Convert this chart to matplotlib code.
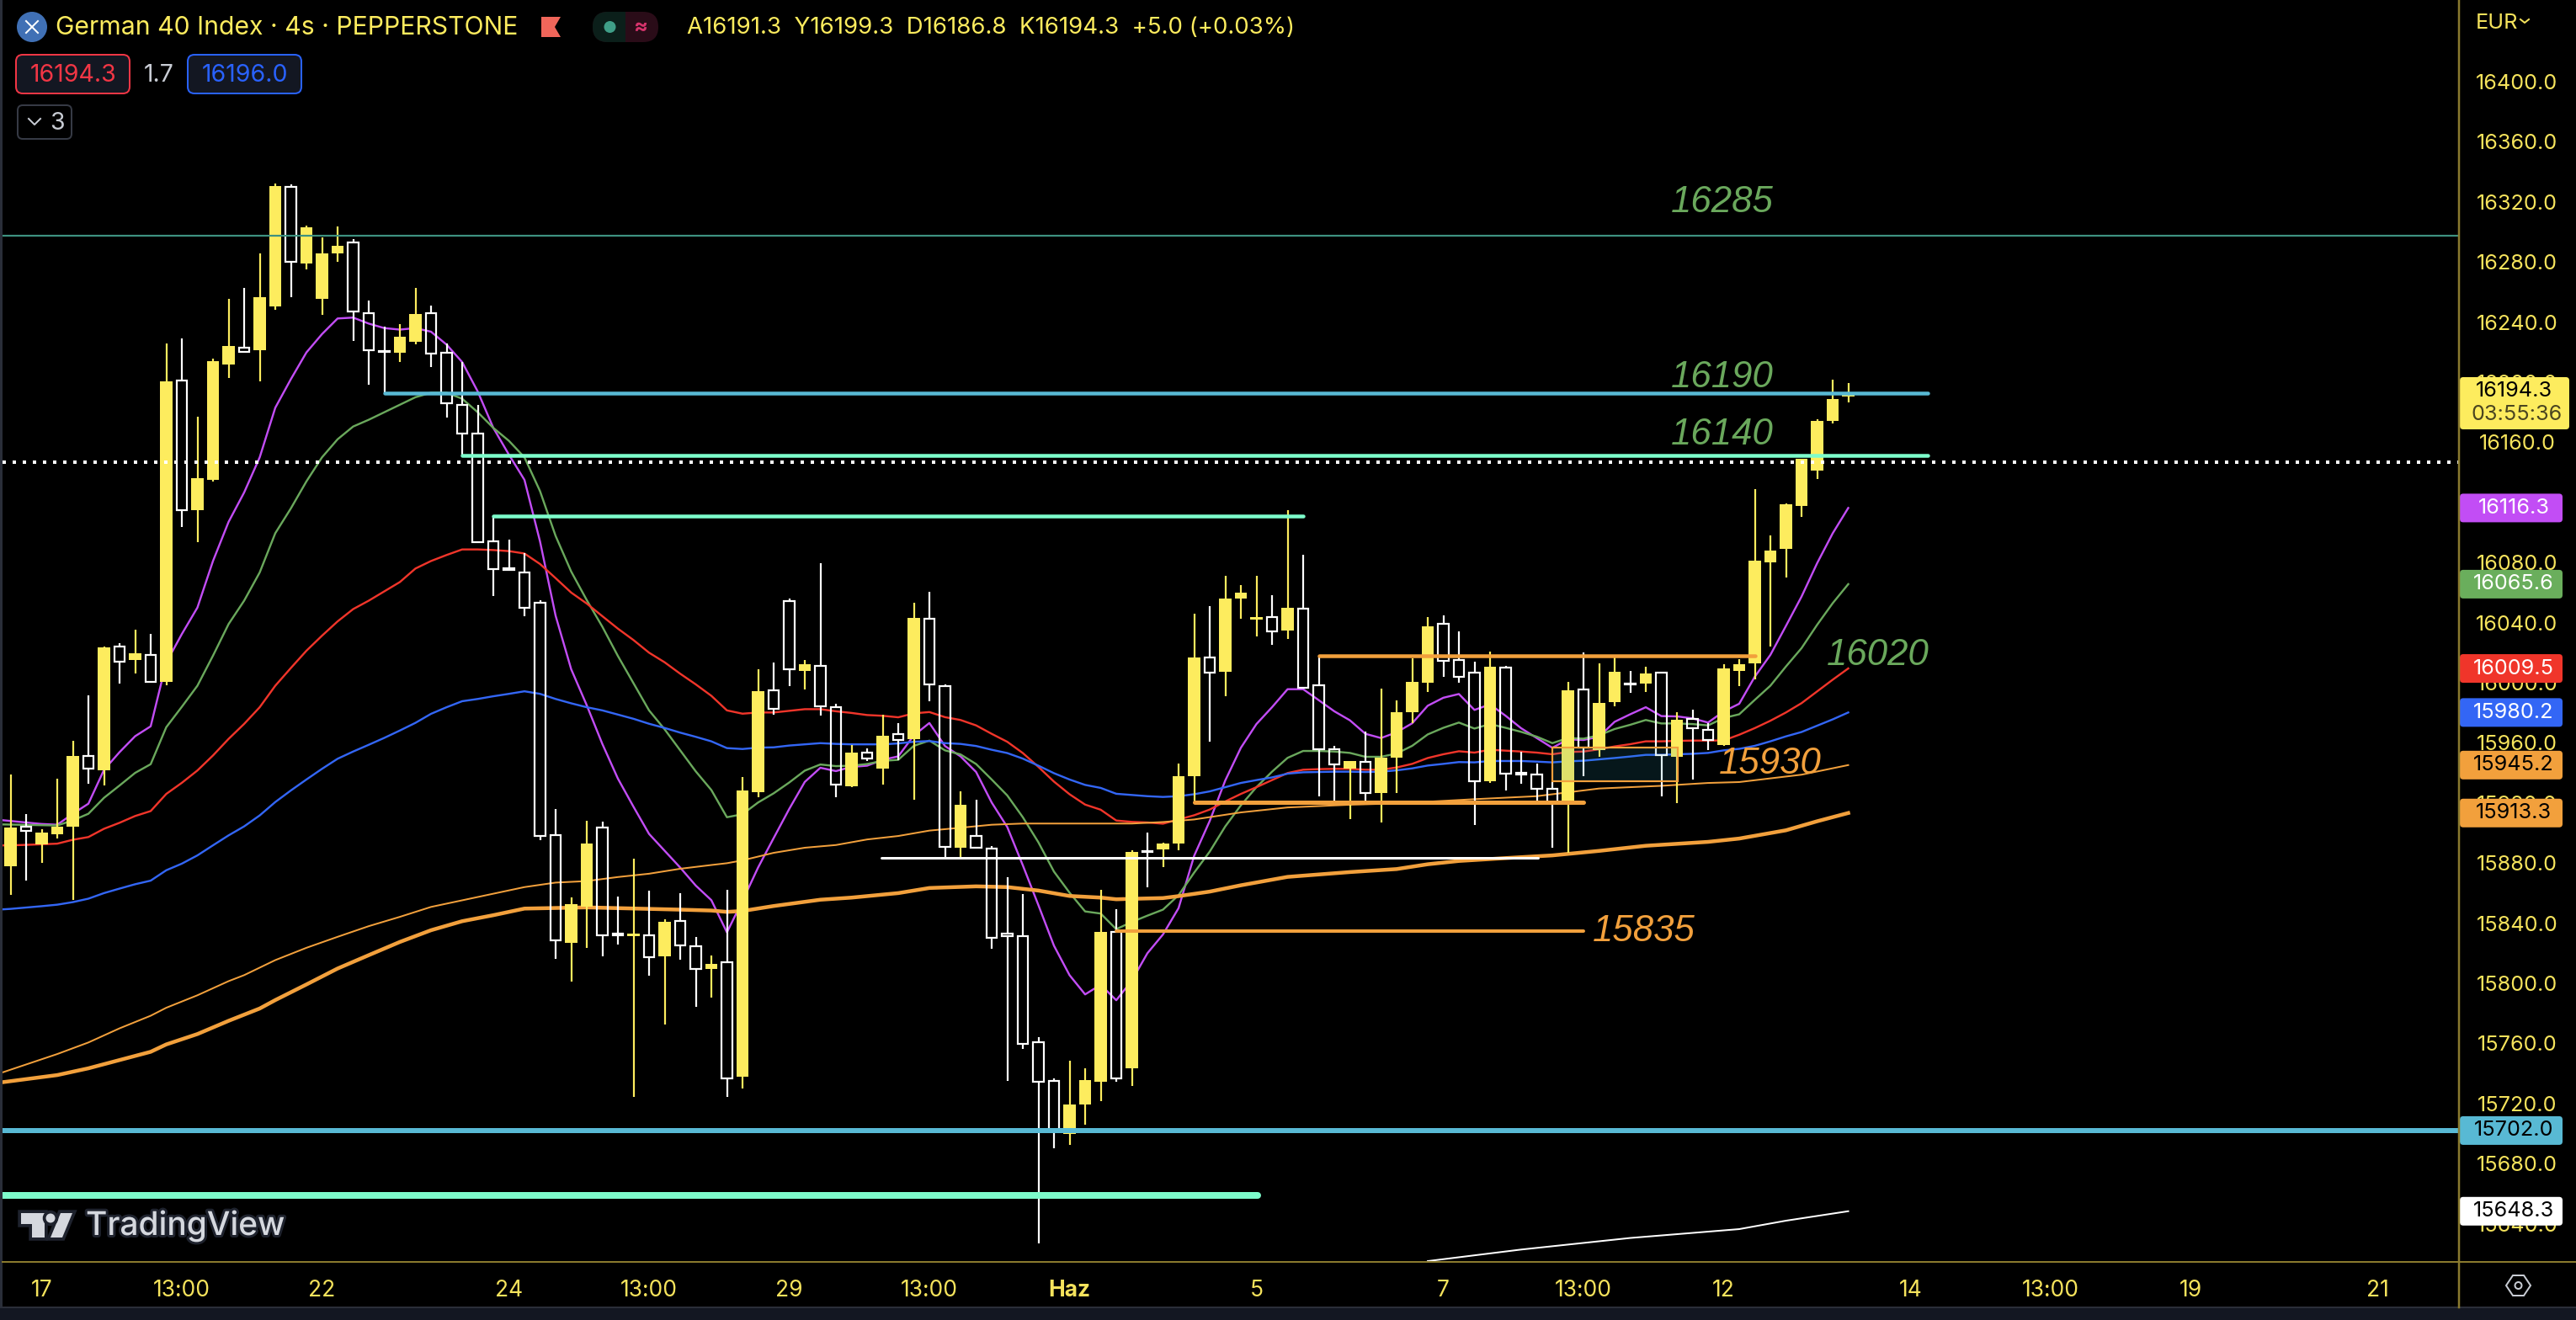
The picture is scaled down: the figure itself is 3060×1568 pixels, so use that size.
import matplotlib as mpl
mpl.use('Agg')
import matplotlib.pyplot as plt
from matplotlib.patches import Circle, FancyBboxPatch, Polygon, Rectangle
import matplotlib.patheffects as pe

plt.rcParams['font.family'] = ['Inter', 'DejaVu Sans']

# candles
opens = [15877.6, 15904, 15892.2, 15899, 15904.2, 15951.4, 15942, 16024.2, 16015, 16018.7,
         16000.5, 16201.3, 16115, 16135, 16211.8, 16223.2, 16221.3, 16250.6, 16329.8, 16279.2,
         16255.5, 16285.9, 16292.8, 16245.8, 16221, 16219.8, 16226.9, 16245.8, 16219.8, 16185.1,
         16166, 16094.3, 16076, 16073.6, 16053.5, 15898.4, 15827.1, 15850.8, 15903.8, 15833,
         15831.5, 15832.2, 15817.7, 15841.4, 15824.4, 15809.4, 15813.8, 15737.7, 15927.2, 15995.2,
         16054.6, 16007.8, 16011.4, 15983.5, 15931.1, 15953.7, 15943.1, 15966, 15962.4, 16042.3,
         15997.5, 15890.2, 15898.3, 15889.9, 15833, 15831.6, 15760.6, 15735.2, 15699.5, 15719.1,
         15734.7, 15834.4, 15743.6, 15888, 15889.3, 15893.2, 15938, 16017, 16007.3, 16056.2,
         16042, 16043.9, 16034.9, 16049.5, 15998.5, 15955.9, 15943, 15947.5, 15926.8, 15950.3,
         15980.6, 16000.2, 16039.4, 16014.9, 16006.9, 15934.4, 16009.9, 15940, 15939.1, 15929.2,
         15920.6, 15995.3, 15955.4, 15987.1, 15999.7, 15999.4, 16006.5, 15950.7, 15976.1, 15968.8,
         15958.7, 16007.9, 16012.8, 16080.1, 16088.8, 16117.6, 16141, 16174.3, 16190.5]
closes = [15903.7, 15901.3, 15900.4, 15904.2, 15951.4, 15942.7, 16023.6, 16013.8, 16019.6, 16000.5,
          16200.4, 16114.7, 16135.9, 16214, 16224.1, 16220, 16256.6, 16330.5, 16279.9, 16303.1,
          16285.7, 16290.8, 16246.9, 16221.1, 16220, 16230.3, 16245.4, 16218.9, 16185.8, 16165.8,
          16093.6, 16075.5, 16075, 16049.7, 15898, 15828.4, 15852.8, 15893.1, 15832.2, 15832,
          15833.3, 15817.2, 15840.8, 15825, 15809.4, 15812.7, 15736.9, 15928.4, 15994.4, 15982.4,
          16008.9, 16012.2, 15984.4, 15932, 15953.4, 15949.5, 15964.6, 15961.8, 16043.2, 15998.6,
          15891, 15918.9, 15890.2, 15830.5, 15831.4, 15759.5, 15734.4, 15702, 15719.3, 15735.5,
          15834.2, 15736.9, 15887.4, 15887.2, 15893, 15937.8, 16016.8, 16006.9, 16056, 16059.9,
          16043.7, 16034, 16049.8, 15996.4, 15955.5, 15945.5, 15947.9, 15926.4, 15950.1, 15980.4,
          16000.5, 16037.5, 16014.4, 16003.9, 15934.4, 16010.6, 15939.3, 15939, 15929.6, 15920.3,
          15994.9, 15956.7, 15986.5, 16007.3, 15998.7, 16006.2, 15951.6, 15975.3, 15969.5, 15961.9,
          16009.5, 16012.3, 16081.2, 16087.9, 16118.7, 16149.2, 16174.3, 16188.7, 16191.3]
highs = [15938.9, 15912.6, 15902.6, 15936, 15961.3, 15991.7, 16024, 16026.4, 16035.3, 16032.4,
         16225.6, 16228.9, 16177, 16215.7, 16255.5, 16262.6, 16285.7, 16332.2, 16331.7, 16304.2,
         16296.4, 16303.6, 16295.2, 16254.3, 16236.8, 16238.7, 16262.7, 16251, 16225.6, 16213.5,
         16184.7, 16110.9, 16095, 16086, 16054.8, 15915.7, 15857.2, 15908.2, 15907.5, 15857.6,
         15883, 15861.7, 15842.8, 15859.8, 15830.8, 15818.5, 15862.3, 15937.3, 16008.9, 16013.4,
         16056.3, 16015, 16079.4, 15985.8, 15958.5, 15956.2, 15978.8, 15973.2, 16053.2, 16060.5,
         15998.9, 15927.8, 15922.2, 15891.3, 15870.4, 15859.2, 15764, 15736.5, 15748.3, 15743.3,
         15862.3, 15849.2, 15888.5, 15900.2, 15893.5, 15946.2, 16045.9, 16051, 16071.1, 16065,
         16071.1, 16058.3, 16114.8, 16085.1, 16017.9, 15958, 15947.9, 15967.3, 15996.1, 15988.2,
         16016.2, 16043.7, 16044.8, 16034.2, 16014, 16020.7, 16011.4, 15954, 15946.2, 15933.7,
         16000.5, 16020.2, 16012.9, 16018, 16007.8, 16010.6, 16006.5, 15980.4, 15982.1, 15972.9,
         16012.6, 16015.9, 16128.8, 16098.1, 16119.3, 16149.2, 16175.1, 16201.7, 16199.3]
lows = [15859, 15868.5, 15880, 15896.6, 15855.2, 15933, 15931.4, 15999.2, 16006.3, 16000.5,
        15998.5, 16103.8, 16093.7, 16134, 16203, 16220, 16200.7, 16248.4, 16256.8, 16275.3,
        16245, 16280.3, 16227.6, 16198.5, 16192.9, 16213.6, 16225.4, 16210.3, 16176.7, 16151.3,
        16093.6, 16057.5, 16075, 16044.4, 15895.5, 15816, 15801.4, 15823.8, 15817.7, 15825.5,
        15724.6, 15805.2, 15772.3, 15815.5, 15784.5, 15790.7, 15724.1, 15730.2, 15923.6, 15978.5,
        15997.5, 15995.5, 15978, 15923.6, 15930.6, 15948.1, 15932.3, 15948.7, 15922, 15987.7,
        15883.5, 15883.5, 15890.2, 15822.7, 15735.2, 15756.1, 15627, 15690.3, 15692.6, 15705.7,
        15721.8, 15734.7, 15731.9, 15863.7, 15877.3, 15888.7, 15920.3, 15961, 15991, 16042.6,
        16030.8, 16025.2, 16029.3, 15996.4, 15924.5, 15920.6, 15909.4, 15919.7, 15907.2, 15926.8,
        15973.1, 15994, 16004.1, 16000, 15905.5, 15933.3, 15928.3, 15932.8, 15918.9, 15890.4,
        15886.6, 15938, 15950.7, 15984.5, 15993.5, 15994, 15924.5, 15920.1, 15935.7, 15955.4,
        15958.1, 15997.5, 16002.4, 16024.1, 16069.9, 16110.2, 16135.7, 16172.7, 16186.8]

# moving averages, one value per candle from index -1 to 118
ma_purple = [15909, 15908, 15907, 15906, 15905.5, 15912.8, 15919.5, 15942, 15953.8, 15964.4, 15971,
             16013.4, 16032.4, 16050, 16081, 16107, 16126.6, 16150, 16183, 16202, 16219.8,
             16232, 16242.4, 16243, 16239, 16236, 16235, 16236, 16233.6, 16225, 16213.4,
             16193.8, 16169.6, 16151.8, 16135, 16094, 16044.6, 16009, 15985, 15959.3, 15936.2,
             15917.5, 15899.4, 15888.2, 15877, 15865, 15855.3, 15833.9, 15854.8, 15877, 15896.6,
             15916, 15934, 15943.4, 15941.2, 15944, 15944.8, 15948.7, 15951, 15964.9, 15973.2,
             15957.9, 15951, 15940.6, 15920.3, 15904, 15878.5, 15852, 15825, 15805.4, 15792.6,
             15799, 15788.7, 15801.8, 15820, 15832.5, 15850, 15884.8, 15908, 15935, 15956.7,
             15972.5, 15983.7, 15995.7, 15995.7, 15988.4, 15981, 15975, 15966, 15963.2, 15967,
             15973, 15984.7, 15990, 15992.5, 15981.9, 15985.6, 15978, 15969.7, 15963.2, 15956.7,
             15962.3, 15961.9, 15964.1, 15974, 15979, 15983.7, 15977.8, 15977.6, 15976.3, 15973.5,
             15980.9, 15986, 16004, 16018.5, 16037.8, 16057.3, 16079.5, 16099.4, 16116.3]
ma_green = [15905.8, 15905.6, 15905.4, 15905.2, 15905, 15908.4, 15912.8, 15923.4, 15931.6, 15940, 15945.8,
            15970.4, 15984, 15998, 16018, 16039, 16054.6, 16073.4, 16099.5, 16116, 16134,
            16150, 16162, 16170.5, 16175, 16180, 16185, 16190, 16193, 16193, 16189,
            16180, 16169.6, 16161, 16150, 16127.5, 16097.7, 16074, 16055, 16037.3, 16017.8,
            15999.7, 15981.6, 15969, 15955, 15941, 15928.6, 15910.5, 15912.5, 15920.3, 15926.4,
            15933.6, 15941.5, 15945.6, 15944.5, 15944.8, 15945.9, 15948, 15948.7, 15958, 15961.5,
            15955, 15952.3, 15945.9, 15935.6, 15925, 15910.5, 15893.8, 15874.3, 15860.3, 15847.8,
            15846.4, 15836, 15840.8, 15845, 15849, 15858.6, 15873.6, 15887.6, 15904.4, 15918.4,
            15930.5, 15940.8, 15950, 15954.6, 15954.6, 15954.2, 15953.3, 15950.7, 15950.7, 15952.9,
            15958, 15965.6, 15970, 15973.5, 15969.5, 15972.5, 15970, 15967.3, 15964.1, 15959.8,
            15963.2, 15962.8, 15965, 15969.2, 15972, 15975.2, 15972.9, 15972.9, 15972.5, 15971.6,
            15976.5, 15979, 15988.6, 15998, 16010.8, 16023, 16038.5, 16052.9, 16065.6]
ma_red = [15891.7, 15891.8, 15892.1, 15892.5, 15892.9, 15895.5, 15897.3, 15902.8, 15906.8, 15911.3, 15914.6,
          15926, 15933.4, 15941.6, 15951.6, 15962.6, 15972.6, 15983.7, 15998, 16009.8, 16021.3,
          16031.3, 16040.8, 16049, 16054.6, 16060.8, 16067, 16076, 16081, 16085, 16088.7,
          16088.7, 16088.3, 16087.6, 16086, 16079, 16069.6, 16060, 16052.7, 16044.3, 16036,
          16028.4, 16020, 16013.6, 16006, 15998.9, 15991.3, 15981.6, 15979.4, 15980.2, 15980.2,
          15981.3, 15982.4, 15982.4, 15981, 15979.9, 15978.5, 15978, 15977, 15979.6, 15980.5,
          15977.1, 15975.2, 15971.6, 15966, 15960.7, 15953.2, 15944, 15934.2, 15925.8, 15918.9,
          15915.5, 15908.3, 15907.4, 15907, 15906.2, 15909, 15911.8, 15915.6, 15921, 15926,
          15930.5, 15935.2, 15939.9, 15942.1, 15942.5, 15942.7, 15942.7, 15942.1, 15942.1, 15943.6,
          15946, 15949.9, 15952.4, 15954.4, 15953.5, 15955.4, 15954.8, 15954.2, 15953.5, 15952.4,
          15953.9, 15954.2, 15955.7, 15957.6, 15959.1, 15961, 15961, 15961.3, 15961.5, 15961.5,
          15961.6, 15965.4, 15969.8, 15974.7, 15980.2, 15986.4, 15994.2, 16002, 16009.5]
ma_blue = [15848.9, 15849.5, 15850.4, 15851.3, 15852.3, 15854, 15856.3, 15860, 15863, 15865.9, 15868.3,
           15875.2, 15879.6, 15885.1, 15891.8, 15898.4, 15904.4, 15911.7, 15920.6, 15928.3, 15935.6,
           15942.7, 15949.4, 15954.2, 15958.7, 15963.3, 15968.2, 15973.3, 15979.3, 15983.7, 15987.7,
           15989.2, 15991, 15992.6, 15994.3, 15992.6, 15989.2, 15986.3, 15983.7, 15981.6, 15978.8,
           15976, 15972.7, 15969.9, 15966.8, 15964, 15961, 15956.5, 15955.9, 15956.8, 15957,
           15958.2, 15959, 15959.8, 15959.3, 15959, 15959, 15959, 15959.6, 15960.7, 15961.2,
           15959.8, 15959.3, 15957.9, 15955.4, 15953.2, 15949.5, 15944.8, 15939.8, 15935.6, 15932,
           15930, 15926.1, 15925.3, 15924.5, 15924, 15924.5, 15925.8, 15927.7, 15930.5, 15933.3,
           15935.2, 15937, 15939.5, 15940.4, 15940.6, 15940.8, 15940.8, 15940.6, 15940.8, 15941.7,
           15943, 15944.9, 15946, 15947.2, 15947, 15947.9, 15947.9, 15947.9, 15947.5, 15947,
           15947.7, 15948.1, 15949, 15949.9, 15950.9, 15952, 15952, 15952.4, 15952.7, 15953.3,
           15955, 15956, 15958, 15961, 15964.3, 15967.2, 15971.4, 15975.6, 15980.2]

# the slow averages and the white one were only read at these candles
thin_orange_at = [-1, 3, 5, 7, 9, 10, 12, 14, 15, 17, 19, 21, 23, 25, 27, 29, 30, 33, 35, 37, 39, 41, 43, 45,
                  46, 47, 49, 51, 53, 55, 57, 59, 61, 63, 65, 67, 70, 72, 74, 76, 79, 82, 86, 89, 94, 98,
                  102, 106, 109, 111, 115, 118]
thin_orange = [15739, 15752.9, 15760.6, 15770, 15778.4, 15783.7, 15792, 15801.4, 15805.4, 15815.4, 15823.6,
               15830.9, 15838, 15844.2, 15850.8, 15855.2, 15857.4, 15864, 15867, 15868, 15870.7, 15872.9,
               15876.2, 15878.7, 15879.9, 15881.8, 15886.8, 15890.2, 15892, 15895.7, 15898, 15901.6,
               15903.5, 15905.5, 15906.3, 15906.3, 15906.3, 15906.3, 15907.3, 15909, 15913.7, 15917,
               15918.8, 15919.7, 15922.5, 15924.5, 15929.6, 15931.4, 15933.3, 15933.9, 15938.8, 15945.2]
thick_orange_at = [-1, 3, 5, 7, 9, 10, 12, 14, 16, 17, 19, 21, 23, 25, 27, 29, 31, 33, 35, 37, 39, 41, 43, 45,
                   46, 47, 49, 51, 52, 54, 57, 59, 62, 64, 66, 68, 70, 71, 72, 74, 75, 77, 79, 82, 86, 89,
                   91, 93, 96, 99, 102, 105, 109, 111, 114, 116, 118]
thick_orange = [15733.5, 15738.9, 15743.4, 15748.9, 15754.4, 15759.3, 15766.2, 15775, 15783.2, 15788.8, 15799.2,
                15809.8, 15818.7, 15827.5, 15835.3, 15841.3, 15845.3, 15849.7, 15850.1, 15850.5, 15850, 15849.5,
                15849, 15848.4, 15847.5, 15848.1, 15851.4, 15854.2, 15855.6, 15857, 15860, 15863.4, 15864.5,
                15864, 15861.7, 15858.1, 15857, 15855.9, 15856.2, 15856.7, 15858, 15861, 15865.2, 15870.8,
                15874, 15876, 15879.2, 15881.4, 15883.3, 15885.1, 15888.1, 15891.5, 15894.1, 15896.3, 15901.8,
                15907.8, 15913.3]
white_at = [91, 97, 104, 111, 114, 118]
white_line = [15615.1, 15622.8, 15630.5, 15636.4, 15642, 15648.3]

# drawn levels
level_top = 16297.5
level_cyan = 16192.9
level_mint_a = 16151.2
level_mint_b = 16111
level_orange_a = 16018
level_orange_b = 15920.4
level_white = 15883.5
level_orange_c = 15834.7
level_cyan_thick = 15702
level_mint_thick = 15658.8
level_dotted = 16146.7

notes_green = [(106.6, 16319.5, '16285'), (106.6, 16203.2, '16190'), (106.6, 16165.2, '16140'), (116.6, 16018, '16020')]
notes_orange = [(109.7, 15946, '15930'), (101.6, 15834.6, '15835')]

y_ticks = list(range(15640, 16401, 40))
x_tick_at = [2, 11, 20, 32, 41, 50, 59, 68, 80, 92, 101, 110, 122, 131, 140, 152]
x_tick_labels = ['17', '13:00', '22', '24', '13:00', '29', '13:00', 'Haz', '5', '7', '13:00', '12', '14', '13:00', '19', '21']

price_tags = [(16116.3, '#c24df5', 'white'), (16065.6, '#6aae5c', 'white'), (16009.5, '#f0352a', 'white'),
              (15980.2, '#3366f5', 'white'), (15945.2, '#f2a03c', 'black'), (15913.3, '#f2a03c', 'black'),
              (15702.0, '#58b9d4', 'black'), (15648.3, 'white', 'black')]

YELLOW = '#fdec5e'
TEXT_YELLOW = '#f5e35c'
AXIS_LINE = '#8a7a2e'
SCALE_SIZE = 18.2
W, H = 3060, 1568
PX = 0.72  # one pixel in points


def px_y(price):
    return 97 + (16400 - price) * 1.785


def draw_candles(ax):
    for i in range(len(opens)):
        top = max(opens[i], closes[i])
        bottom = min(opens[i], closes[i])
        if closes[i] >= opens[i]:
            ax.bar(i, max(top - bottom, 1.5), bottom=bottom, width=14.5 / 18.5, color=YELLOW, linewidth=0, zorder=3)
            c = YELLOW
        else:
            ax.bar(i, top - bottom, bottom=bottom, width=12.5 / 18.5, facecolor='none', edgecolor='white',
                   linewidth=2.2 * PX, zorder=3)
            c = 'white'
        ax.vlines(i, top, highs[i], color=c, linewidth=2.2 * PX, zorder=3)
        ax.vlines(i, lows[i], bottom, color=c, linewidth=2.2 * PX, zorder=3)


def level(ax, price, start, end, color, px):
    ax.plot([start, end], [price, price], color=color, linewidth=px * PX, solid_capstyle='round', zorder=4)


fig = plt.figure(figsize=(W / 100, H / 100), dpi=100, facecolor='black')

ax = fig.add_axes([3 / W, (H - 1499) / H, (2921 - 3) / W, 1499 / H], facecolor='black')
ax.set_xlim((3 - 12.5) / 18.5, (2921 - 12.5) / 18.5)
ax.set_ylim(16400 - (1499 - 97) / 1.785, 16400 + 97 / 1.785)
for s in ax.spines.values():
    s.set_visible(False)

ma_x = list(range(-1, 119))
ax.plot(ma_x, ma_purple, color='#c24df5', linewidth=2.4 * PX, zorder=2)
ax.plot(ma_x, ma_green, color='#6aa85c', linewidth=2.4 * PX, zorder=2)
ax.plot(ma_x, ma_red, color='#f0352a', linewidth=2.4 * PX, zorder=2)
ax.plot(ma_x, ma_blue, color='#3366f5', linewidth=2.4 * PX, zorder=2)
ax.plot(thin_orange_at, thin_orange, color='#f2a03c', linewidth=2 * PX, zorder=2)
ax.plot(thick_orange_at, thick_orange, color='#f2a03c', linewidth=4.5 * PX, zorder=2)
ax.plot(white_at, white_line, color='white', linewidth=2 * PX, zorder=2)

draw_candles(ax)

level(ax, level_top, -1, 158, '#3e9280', 2.2)
level(ax, level_cyan, 24, 123.1, '#58b9d4', 4.5)
level(ax, level_mint_a, 29, 123.1, '#7dfccb', 4.5)
level(ax, level_mint_b, 31, 83, '#7dfccb', 4.5)
level(ax, level_orange_a, 84, 112, '#f2a03c', 4.5)
level(ax, level_orange_b, 76, 101, '#f2a03c', 5)
level(ax, level_white, 55.9, 98.1, 'white', 3)
level(ax, level_orange_c, 71, 101, '#f2a03c', 4)
level(ax, level_cyan_thick, -1, 158, '#58b9d4', 6)
level(ax, level_mint_thick, -1, 80.1, '#7dfccb', 8)
ax.axhline(level_dotted, color='white', linewidth=4 * PX, dashes=(1, 2), zorder=4)

ax.add_patch(Rectangle((99, 15934.4), 8.05, 15957 - 15934.4, facecolor='#2ba4c1', alpha=0.14, linewidth=0, zorder=5))
ax.add_patch(Rectangle((99, 15934.4), 8.05, 15957 - 15934.4, fill=False, edgecolor='#f2a03c', linewidth=2.2 * PX, zorder=5))

for x, y, t in notes_green:
    ax.text(x, y, t, color='#6aa85c', fontsize=31.5, style='italic', family=['Liberation Sans'], va='center', zorder=6)
for x, y, t in notes_orange:
    ax.text(x, y, t, color='#f2a03c', fontsize=31.5, style='italic', family=['Liberation Sans'], va='center', zorder=6)

ax.yaxis.tick_right()
ax.set_yticks(y_ticks)
ax.set_yticklabels([f'{t}.0' for t in y_ticks], ha='center')
ax.tick_params(axis='y', right=False, labelright=True, pad=64 * PX, labelcolor=TEXT_YELLOW, labelsize=SCALE_SIZE)
ax.set_xticks(x_tick_at)
ax.set_xticklabels(x_tick_labels)
ax.tick_params(axis='x', bottom=False, pad=16 * PX, labelcolor=TEXT_YELLOW, labelsize=19)
for lab in ax.get_xticklabels():
    if lab.get_text() == 'Haz':
        lab.set_fontweight('bold')

# everything around the chart, in picture pixels
ui = fig.add_axes([0, 0, 1, 1])
ui.set_xlim(0, W)
ui.set_ylim(H, 0)
ui.axis('off')
ui.patch.set_alpha(0)

ui.add_patch(Rectangle((0, 0), 3, H, color='#2a2e39', linewidth=0))
ui.add_patch(Rectangle((0, 1554), W, 14, color='#131722', linewidth=0))
ui.plot([0, W], [1553, 1553], color='#2a2e39', linewidth=2 * PX)
ui.plot([3, W], [1499, 1499], color=AXIS_LINE, linewidth=2 * PX)
ui.plot([2921, 2921], [0, 1553], color=AXIS_LINE, linewidth=2.5 * PX)

# header
ui.add_patch(Circle((38, 32), 18, color='#4070b5', linewidth=0))
ui.plot([31, 45], [25, 39], color='white', linewidth=2 * PX)
ui.plot([31, 45], [39, 25], color='white', linewidth=2 * PX)
ui.text(66, 33, 'German 40 Index · 4s · PEPPERSTONE', color=YELLOW, fontsize=21.7, va='center')
ui.add_patch(Polygon([(643, 20), (666, 20), (659, 32), (666, 44), (643, 44)], color='#f0665a', linewidth=0))
pill = FancyBboxPatch((704, 14), 78, 36, boxstyle='round,pad=0,rounding_size=18', facecolor='#2a0c18', linewidth=0)
ui.add_patch(pill)
half = Rectangle((704, 14), 39, 36, facecolor='#0b1f1a', linewidth=0)
ui.add_patch(half)
half.set_clip_path(pill)
ui.add_patch(Circle((724.5, 32), 7, color='#3f9e87', linewidth=0))
ui.text(761, 32, '≈', color='#d6336c', fontsize=18, ha='center', va='center', fontweight='bold')
ui.text(816, 33, 'A16191.3  Y16199.3  D16186.8  K16194.3  +5.0 (+0.03%)', color=YELLOW, fontsize=19.9, va='center')

ui.add_patch(FancyBboxPatch((19, 65), 135, 46, boxstyle='round,pad=0,rounding_size=8', facecolor='#131722', edgecolor='#f23645', linewidth=2 * PX))
ui.text(87, 89, '16194.3', color='#f23645', fontsize=20.5, ha='center', va='center')
ui.text(189, 89, '1.7', color='#c8ccd4', fontsize=20.5, ha='center', va='center')
ui.add_patch(FancyBboxPatch((223, 65), 135, 46, boxstyle='round,pad=0,rounding_size=8', facecolor='#131722', edgecolor='#2962ff', linewidth=2 * PX))
ui.text(291, 89, '16196.0', color='#2962ff', fontsize=20.5, ha='center', va='center')
ui.add_patch(FancyBboxPatch((21, 125), 64, 40, boxstyle='round,pad=0,rounding_size=6', facecolor='black', edgecolor='#363a45', linewidth=2 * PX))
ui.plot([34, 41, 48], [141, 148, 141], color='#c8ccd4', linewidth=2 * PX)
ui.text(68, 146, '3', color='#c8ccd4', fontsize=20.5, ha='center', va='center')

# price scale
ui.text(2941, 27, 'EUR', color=TEXT_YELLOW, fontsize=SCALE_SIZE, va='center')
ui.plot([2994, 2999, 3004], [23, 27, 23], color=TEXT_YELLOW, linewidth=2 * PX)
ui.add_patch(FancyBboxPatch((2922, 448), 130, 62, boxstyle='round,pad=0,rounding_size=4', facecolor=YELLOW, linewidth=0))
ui.text(2986, 464, '16194.3', color='black', fontsize=SCALE_SIZE, ha='center', va='center')
ui.text(2990, 492, '03:55:36', color='#4a4520', fontsize=SCALE_SIZE, ha='center', va='center')
for price, bg, fg in price_tags:
    y = px_y(price)
    ui.add_patch(FancyBboxPatch((2922, y - 17), 122, 34, boxstyle='round,pad=0,rounding_size=4', facecolor=bg, linewidth=0))
    ui.text(2986, y, f'{price:.1f}', color=fg, fontsize=SCALE_SIZE, ha='center', va='center')

# settings icon
ui.add_patch(Polygon([(2977, 1527), (2985, 1515), (2998, 1515), (3006, 1527), (2998, 1539), (2985, 1539)],
                     fill=False, edgecolor='#c8ccd4', linewidth=2 * PX))
ui.add_patch(Circle((2991.5, 1527), 4, fill=False, edgecolor='#c8ccd4', linewidth=2 * PX))

# logo
halo = [pe.withStroke(linewidth=5 * PX * 1.5, foreground='#1e222d')]
for pts in ([(25, 1441), (53, 1441), (53, 1470), (38, 1470), (38, 1454), (25, 1454)],
            [(72, 1441), (86, 1441), (74, 1470), (60, 1470)]):
    ui.add_patch(Polygon(pts, color='#d5d8de', linewidth=0, path_effects=halo))
ui.add_patch(Circle((60, 1447), 5.5, color='#d5d8de', linewidth=0, path_effects=halo))
ui.text(102, 1456, 'TradingView', color='#d5d8de', fontsize=28, va='center', fontweight='medium',
        path_effects=[pe.withStroke(linewidth=6 * PX, foreground='#1e222d')])

fig.savefig('out.png', dpi=100, facecolor='black')
